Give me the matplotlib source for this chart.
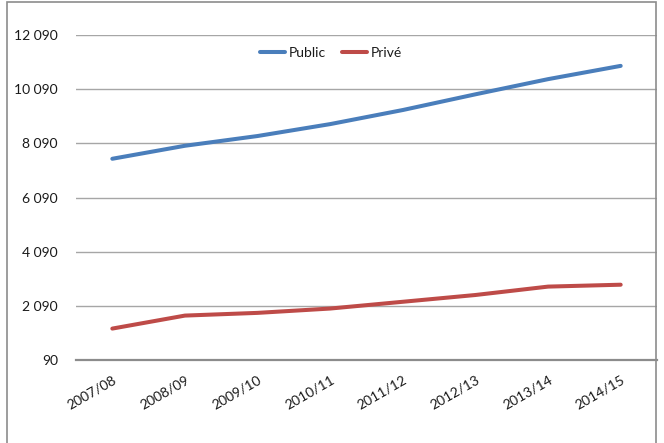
# Graphique : évolution Public / Privé
import matplotlib.pyplot as plt
from matplotlib.patches import Rectangle
from matplotlib.ticker import FuncFormatter

plt.rcParams['font.family'] = ['Lato', 'DejaVu Sans']

# Données
annees = ['2007/08', '2008/09', '2009/10', '2010/11', '2011/12', '2012/13', '2013/14', '2014/15']
public = [7520, 8000, 8360, 8800, 9320, 9900, 10460, 10950]
prive = [1250, 1730, 1830, 1990, 2240, 2490, 2800, 2870]
graduations = [90, 2090, 4090, 6090, 8090, 10090, 12090]

bleu = '#4a7ebb'
rouge = '#be4b48'
texte = '#1a1a1a'

fig = plt.figure(figsize=(6.64, 4.43), dpi=100)
ax = fig.add_axes([76 / 664, 1 - 360 / 443, (657 - 76) / 664, (360 - 35) / 443])

x = range(len(annees))
ax.plot(x, public, color=bleu, lw=2.9, label='Public', solid_capstyle='round')
ax.plot(x, prive, color=rouge, lw=2.9, label='Privé', solid_capstyle='round')

ax.set_xlim(-0.5, len(annees) - 0.5)
ax.set_ylim(graduations[0], graduations[-1])
ax.set_yticks(graduations)
ax.yaxis.set_major_formatter(FuncFormatter(lambda v, p: f'{int(v):,}'.replace(',', ' ')))
ax.set_xticks(list(x))
ax.set_xticklabels(annees, rotation=30, ha='right', rotation_mode='anchor')

ax.grid(axis='y', color='#a6a6a6', lw=1)
ax.set_axisbelow(True)
for s in ['left', 'right', 'top']:
    ax.spines[s].set_visible(False)
ax.spines['bottom'].set_color('#8c8c8c')
ax.spines['bottom'].set_linewidth(1.6)
ax.tick_params(axis='both', length=0, labelsize=10, colors=texte)
ax.tick_params(axis='y', pad=13)
ax.tick_params(axis='x', pad=10)

fig.legend(loc='center', bbox_to_anchor=(331 / 664, 1 - 53 / 443), ncol=2, frameon=False,
           fontsize=10, handlelength=1.8, handletextpad=0.3, columnspacing=1.1,
           labelcolor=texte)

# cadre gris autour du graphique
fig.patches.append(Rectangle((7 / 664, -0.1), (656 - 7) / 664, 1.1 - 1.5 / 443,
                             transform=fig.transFigure, fill=False,
                             edgecolor='#8c8c8c', lw=1.2))

fig.savefig('out.png', dpi=100)
